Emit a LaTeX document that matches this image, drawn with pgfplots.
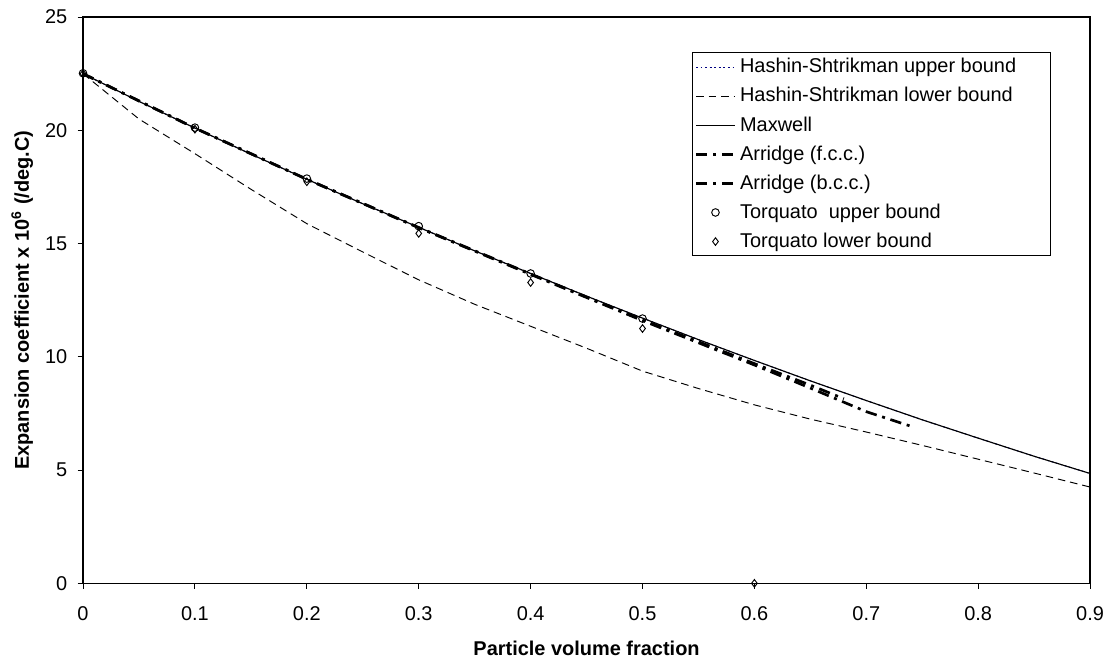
\documentclass[border=0pt]{standalone}
\usepackage{fontspec}
\setmainfont{Liberation Sans}
\usepackage{pgfplots}
\pgfplotsset{compat=1.18}
\definecolor{hsblue}{HTML}{000080}

\begin{document}
\begin{tikzpicture}
\begin{axis}[
  scale only axis,
  width=530pt, height=298pt,
  xmin=0, xmax=0.9, ymin=0, ymax=25,
  xtick={0,0.1,0.2,0.3,0.4,0.5,0.6,0.7,0.8,0.9},
  xticklabels={0,0.1,0.2,0.3,0.4,0.5,0.6,0.7,0.8,0.9},
  ytick={0,5,10,15,20,25},
  /pgf/number format/assume math mode=true,
  tick label style={font=\fontsize{10.5}{12}\selectfont},
  xticklabel style={yshift=-6pt},
  yticklabel style={xshift=-2pt},
  tick align=outside, tick pos=left,
  major tick length=2.8pt,
  axis line style={line width=0.7pt},
  every tick/.style={black, line width=0.5pt},
  xlabel={\bfseries Particle volume fraction},
  ylabel={\bfseries Expansion coefficient x 10\textsuperscript{6} (/deg.C)},
  label style={font=\fontsize{10.5}{12}\selectfont},
  xlabel style={at={(axis description cs:0.5,0)}, anchor=center, yshift=-34pt},
  ylabel style={at={(axis description cs:0,0.5)}, anchor=center, yshift=32pt},
  clip=false,
  legend cell align=left,
  legend style={at={(0.605,0.938)}, anchor=north west, draw=black, line width=0.5pt,
    font=\fontsize{10.5}{12}\selectfont, inner sep=1pt, row sep=2.2pt,
    nodes={inner sep=2pt}},
  legend image code/.code={\draw[mark repeat=2,mark phase=2,#1]
    plot coordinates {(0cm,0cm) (0.36cm,0cm) (0.72cm,0cm)};},
]
% Hashin-Shtrikman upper bound (coincides with Maxwell)
\addplot[hsblue, line width=0.5pt, dash pattern=on 1pt off 1.4pt] coordinates {
  (0,22.5) (0.05,21.28) (0.1,20.1) (0.15,18.95) (0.2,17.84) (0.25,16.76)
  (0.3,15.72) (0.35,14.68) (0.4,13.68) (0.45,12.68) (0.5,11.71) (0.55,10.76)
  (0.6,9.84) (0.65,8.94) (0.7,8.07) (0.75,7.22) (0.8,6.41) (0.85,5.61) (0.9,4.85)
};
\addlegendentry{Hashin-Shtrikman upper bound\rule{15pt}{0pt}}
% Hashin-Shtrikman lower bound
\addplot[black, line width=0.5pt, dash pattern=on 4pt off 2.6pt] coordinates {
  (0,22.5) (0.05,20.5) (0.1,18.97) (0.15,17.4) (0.2,15.88) (0.25,14.63)
  (0.3,13.4) (0.35,12.32) (0.4,11.35) (0.45,10.38) (0.5,9.37) (0.55,8.6)
  (0.6,7.88) (0.65,7.25) (0.7,6.68) (0.75,6.09) (0.8,5.48) (0.85,4.87) (0.9,4.25)
};
\addlegendentry{Hashin-Shtrikman lower bound}
% Maxwell
\addplot[black, line width=0.6pt] coordinates {
  (0,22.5) (0.05,21.28) (0.1,20.1) (0.15,18.95) (0.2,17.84) (0.25,16.76)
  (0.3,15.72) (0.35,14.68) (0.4,13.68) (0.45,12.68) (0.5,11.71) (0.55,10.76)
  (0.6,9.84) (0.65,8.94) (0.7,8.07) (0.75,7.22) (0.8,6.41) (0.85,5.61) (0.9,4.85)
};
\addlegendentry{Maxwell}
% Arridge (f.c.c.)
\addplot[black, line width=1.4pt, dash pattern=on 6pt off 3pt on 1.6pt off 3pt] coordinates {
  (0,22.5) (0.1,20.1) (0.2,17.84) (0.3,15.7) (0.4,13.64) (0.5,11.6)
  (0.55,10.62) (0.6,9.64) (0.65,8.62) (0.7,7.58) (0.742,6.9)
};
\addlegendentry{Arridge (f.c.c.)}
% Arridge (b.c.c.)
\addplot[black, line width=1.4pt, dash pattern=on 6pt off 3pt on 1.6pt off 3pt] coordinates {
  (0,22.5) (0.1,20.1) (0.2,17.84) (0.3,15.71) (0.4,13.66) (0.5,11.63)
  (0.55,10.67) (0.6,9.7) (0.65,8.75) (0.68,8.15)
};
\addlegendentry{Arridge (b.c.c.)}
% Torquato upper bound
\addplot[only marks, mark=o, mark size=2pt, black, line width=0.5pt] coordinates {
  (0,22.52) (0.1,20.12) (0.2,17.87) (0.3,15.77) (0.4,13.68) (0.5,11.69)
};
\addlegendentry{Torquato\ \ upper bound}
% Torquato lower bound
\addplot[only marks, mark=diamond, mark size=2pt, black, line width=0.5pt] coordinates {
  (0,22.5) (0.1,20.05) (0.2,17.73) (0.3,15.45) (0.4,13.28) (0.5,11.25) (0.6,0)
};
\addlegendentry{Torquato lower bound}
% keep the outer margins of the reference
\path (rel axis cs:0,0) ++(-43.7pt,-42.6pt) coordinate (bbsw);
\path (rel axis cs:1,1) ++(11pt,9pt) coordinate (bbne);
\end{axis}
\path (bbsw) (bbne);
\end{tikzpicture}
\end{document}
